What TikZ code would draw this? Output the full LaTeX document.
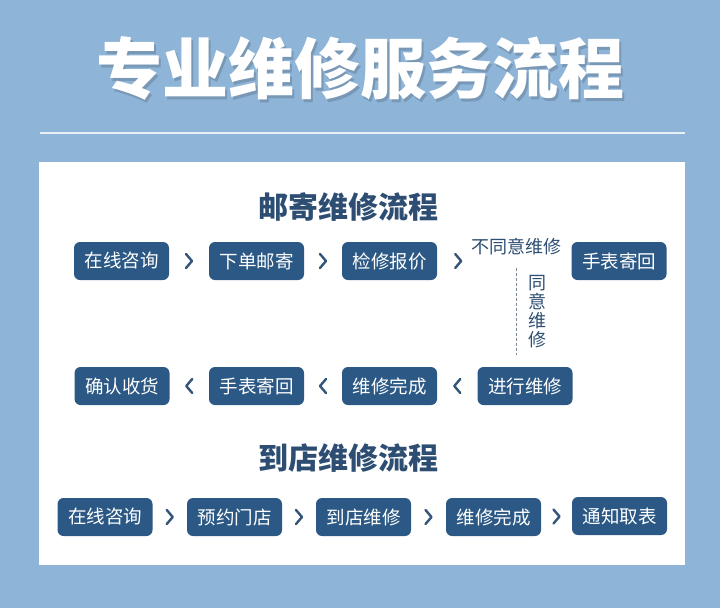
\documentclass[tikz,border=0pt]{standalone}
\usepackage{fontspec}
\newfontfamily\cjk{Noto Sans CJK SC}
\usetikzlibrary{calc}

\definecolor{pagebg}{HTML}{8EB4D8}
\definecolor{boxblue}{HTML}{2B5884}
\definecolor{headblue}{HTML}{2D4E72}
\definecolor{chevblue}{HTML}{34557A}
\definecolor{dashgray}{HTML}{7A8898}
\definecolor{titleshade}{HTML}{7898B6}

\newcommand\chevnext[2]{\draw[chev] ($(#1.east)!0.5!(#2.west)+(-3,-7)$) -- ++(6,7) -- ++(-6,7);}
\newcommand\chevback[2]{\draw[chev] ($(#1.west)!0.5!(#2.east)+(3,-7)$) -- ++(-6,7) -- ++(6,7);}

\begin{document}
\begin{tikzpicture}[
  x=1pt, y=-1pt,
  stepbox/.style={fill=boxblue, rounded corners=6pt, minimum width=95pt, minimum height=38pt, inner sep=0pt, text=white, font=\cjk\fontsize{18.5}{20}\selectfont},
  heading/.style={text=headblue, inner sep=0pt, font=\cjk\bfseries\fontsize{30}{32}\selectfont},
  note/.style={text=headblue, inner sep=0pt, font=\cjk\fontsize{18}{19}\selectfont},
  chev/.style={draw=chevblue, line width=2.4pt, line cap=round, line join=round},
  agree/.style={draw=dashgray, line width=1pt, dash pattern=on 3pt off 2pt},
  bigtitle/.style={font=\cjk\bfseries\fontsize{66}{68}\selectfont}
]
  \fill[pagebg] (0,0) rectangle (720,608);
  \node[bigtitle, text=titleshade] at (362,71) {专业维修服务流程};
  \node[bigtitle, text=white] (title) at (360,68) {专业维修服务流程};
  \coordinate (ruleL) at (40,133);
  \coordinate (ruleR) at (685,133);
  \draw[white!80!pagebg, line width=1.5pt] (ruleL) -- (ruleR);
  \fill[white] (39,162) rectangle (685,565);

  \node[heading] (mailhead) at (348,207) {邮寄维修流程};
  \node[stepbox] (m1) at (121.5,261) {在线咨询};
  \node[stepbox] (m2) at (256.5,261) {下单邮寄};
  \node[stepbox] (m3) at (389.5,261) {检修报价};
  \node[note] (disagree) at (516,247) {不同意维修};
  \node[stepbox] (m4) at (619,261) {手表寄回};
  \node[note, align=center] (agreetxt) at (537,312) {同\\意\\维\\修};
  \node[stepbox] (r1) at (525,386) {进行维修};
  \node[stepbox] (r2) at (389.5,386) {维修完成};
  \node[stepbox] (r3) at (256.5,386) {手表寄回};
  \node[stepbox] (r4) at (122,386) {确认收货};

  \chevnext{m1}{m2}
  \chevnext{m2}{m3}
  \draw[chev] ($(m3.east)+(18,-7)$) -- ++(6,7) -- ++(-6,7);
  \draw[agree] ($(disagree.south)+(0,12)$) -- ($(disagree.south |- r1.north)+(0,-12)$);
  \draw[chev] ($(r1.west)+(-17,-7)$) -- ++(-6,7) -- ++(6,7);
  \chevback{r2}{r3}
  \chevback{r3}{r4}

  \node[heading] (shophead) at (348,458) {到店维修流程};
  \node[stepbox] (s1) at (105,517) {在线咨询};
  \node[stepbox] (s2) at (234.5,517) {预约门店};
  \node[stepbox] (s3) at (363.5,517) {到店维修};
  \node[stepbox] (s4) at (493.5,517) {维修完成};
  \node[stepbox] (s5) at (619.5,516) {通知取表};
  \chevnext{s1}{s2}
  \chevnext{s2}{s3}
  \chevnext{s3}{s4}
  \chevnext{s4}{s5}
\end{tikzpicture}
\end{document}
